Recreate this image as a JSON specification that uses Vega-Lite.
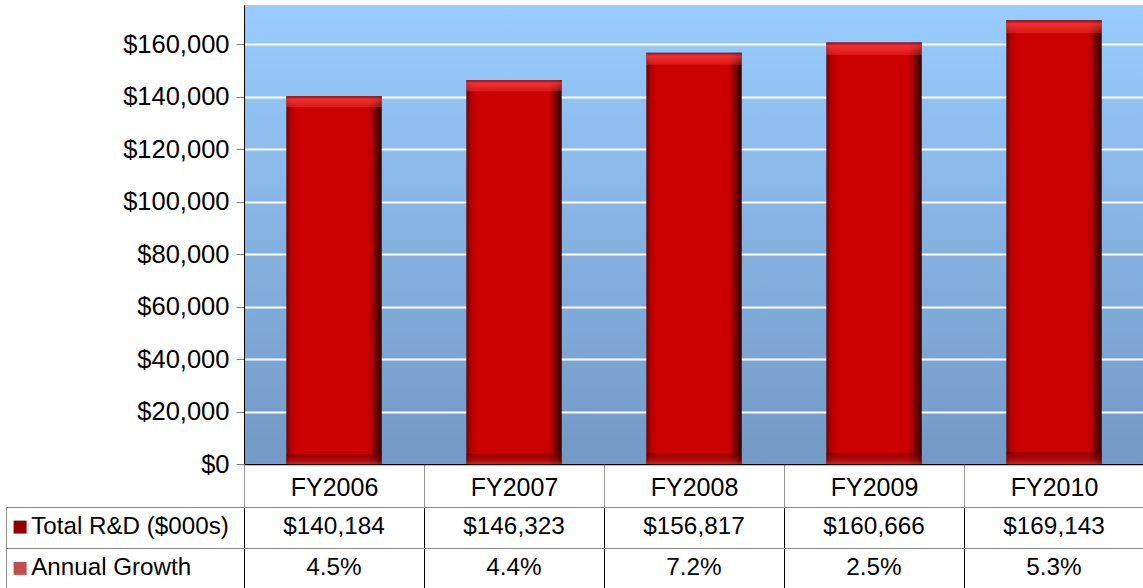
{
  "$schema": "https://vega.github.io/schema/vega-lite/v6.json",
  "padding": {"left": 5, "top": 5, "right": 0, "bottom": 0},
  "background": "white",
  "bounds": "flush",
  "spacing": 43,
  "resolve": {"legend": {"color": "independent"}},
  "datasets": {
    "rd": [
      {"year": "FY2006", "total": 140184, "growth": 0.045},
      {"year": "FY2007", "total": 146323, "growth": 0.044},
      {"year": "FY2008", "total": 156817, "growth": 0.072},
      {"year": "FY2009", "total": 160666, "growth": 0.025},
      {"year": "FY2010", "total": 169143, "growth": 0.053}
    ],
    "series": [
      {"series": "Total R&D ($000s)"},
      {"series": "Annual Growth"}
    ]
  },
  "vconcat": [
    {
      "width": 900,
      "height": 459,
      "view": {
        "stroke": null,
        "fill": {
          "gradient": "linear", "x1": 0, "y1": 0, "x2": 0, "y2": 1,
          "stops": [
            {"offset": 0, "color": "#99CCFF"},
            {"offset": 1, "color": "#7399C6"}
          ]
        }
      },
      "data": {"name": "rd"},
      "layer": [
        {
          "mark": {
            "type": "bar",
            "width": {"band": 0.53},
            "color": {
              "gradient": "linear", "x1": 0, "y1": 0, "x2": 1, "y2": 0,
              "stops": [
                {"offset": 0, "color": "#700000"},
                {"offset": 0.05, "color": "#b80000"},
                {"offset": 0.12, "color": "#cc0000"},
                {"offset": 0.86, "color": "#cc0000"},
                {"offset": 0.94, "color": "#7a0000"},
                {"offset": 1, "color": "#1a0000"}
              ]
            }
          },
          "encoding": {
            "x": {
              "field": "year", "type": "nominal", "sort": null,
              "scale": {"paddingInner": 0, "paddingOuter": 0},
              "axis": {
                "title": null,
                "labelAngle": 0,
                "labelFontSize": 25,
                "labelColor": "#000000",
                "labelPadding": -32,
                "tickBand": "extent",
                "tickSize": 43,
                "tickColor": "#9a9a9a",
                "domainColor": "#000000",
                "domainWidth": 1.5,
                "grid": false
              }
            },
            "y": {
              "field": "total", "type": "quantitative",
              "scale": {"domain": [0, 175000], "nice": false},
              "axis": {
                "title": null,
                "values": [0, 20000, 40000, 60000, 80000, 100000, 120000, 140000, 160000],
                "format": "$,d",
                "labelFontSize": 25.5,
                "labelColor": "#000000",
                "labelPadding": 7,
                "tickSize": 8,
                "tickColor": "#808080",
                "domainColor": "#000000",
                "grid": true,
                "gridColor": "#FFFFFF",
                "gridWidth": 2,
                "gridOpacity": 1
              }
            }
          }
        },
        {
          "mark": {
            "type": "bar",
            "width": {"band": 0.53},
            "color": {
              "gradient": "linear", "x1": 0, "y1": 0, "x2": 0, "y2": 1,
              "stops": [
                {"offset": 0, "color": "rgba(170,0,0,0.9)"},
                {"offset": 0.008, "color": "rgba(255,70,70,0.7)"},
                {"offset": 0.028, "color": "rgba(255,70,70,0.35)"},
                {"offset": 0.03, "color": "rgba(255,70,70,0)"},
                {"offset": 0.972, "color": "rgba(90,0,0,0)"},
                {"offset": 0.974, "color": "rgba(90,0,0,0.45)"},
                {"offset": 0.99, "color": "rgba(150,20,20,0.5)"},
                {"offset": 1, "color": "rgba(220,60,60,0.6)"}
              ]
            }
          },
          "encoding": {
            "x": {"field": "year", "type": "nominal", "sort": null},
            "y": {"field": "total", "type": "quantitative"}
          }
        }
      ]
    },
    {
      "width": 900,
      "height": 81,
      "view": {"stroke": null},
      "data": {"name": "rd"},
      "encoding": {
        "x": {
          "field": "year", "type": "nominal", "sort": null,
          "scale": {"paddingInner": 0, "paddingOuter": 0},
          "axis": {
            "title": null, "labels": false, "ticks": false, "domain": false,
            "grid": true, "gridColor": "#000000", "gridOpacity": 1, "gridWidth": 1,
            "tickBand": "extent"
          }
        }
      },
      "layer": [
        {
          "mark": {"type": "text", "fontSize": 24.3, "color": "#000000", "baseline": "middle"},
          "encoding": {
            "y": {
              "datum": "Total R&D ($000s)", "type": "nominal",
              "scale": {"domain": ["Total R&D ($000s)", "Annual Growth"], "paddingInner": 0, "paddingOuter": 0},
              "axis": {
                "title": null, "labels": false, "offset": 238,
                "domain": true, "domainColor": "#8c8c8c",
                "ticks": true, "tickSize": -238, "tickColor": "#8c8c8c",
                "grid": true, "gridColor": "#8c8c8c", "gridOpacity": 1,
                "tickBand": "extent"
              }
            },
            "text": {"field": "total", "type": "quantitative", "format": "$,d"}
          }
        },
        {
          "mark": {"type": "text", "fontSize": 24.3, "color": "#000000", "baseline": "middle"},
          "encoding": {
            "y": {"datum": "Annual Growth", "type": "nominal"},
            "text": {"field": "growth", "type": "quantitative", "format": ".1%"}
          }
        },
        {
          "data": {"name": "series"},
          "mark": {"type": "square", "opacity": 0},
          "encoding": {
            "x": {"value": 0},
            "y": {"field": "series", "type": "nominal"},
            "color": {
              "field": "series", "type": "nominal",
              "scale": {"domain": ["Total R&D ($000s)", "Annual Growth"], "range": ["#8f0000", "#C0504D"]},
              "legend": {
                "title": null,
                "orient": "none",
                "legendX": -236,
                "legendY": 8,
                "padding": 0,
                "symbolType": "square",
                "symbolSize": 169,
                "symbolOpacity": 1,
                "symbolStrokeWidth": 0,
                "labelFontSize": 24.2,
                "labelColor": "#000000",
                "labelOffset": -1,
                "labelLimit": 400,
                "rowPadding": 16.3
              }
            }
          }
        }
      ]
    }
  ],
  "config": {
    "font": "Liberation Sans",
    "view": {"stroke": null},
    "axis": {"labelFont": "Liberation Sans"},
    "legend": {"labelFont": "Liberation Sans"}
  }
}
